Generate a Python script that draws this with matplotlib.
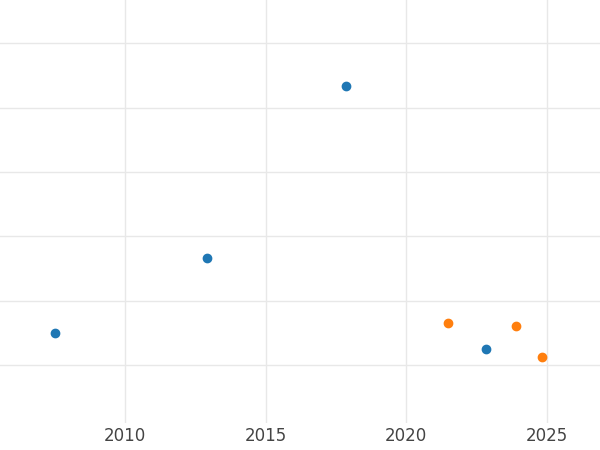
import matplotlib
matplotlib.use("Agg")
import matplotlib.pyplot as plt

# ── Datos ──────────────────────────────────────────────────────────────────────
years_blue = [2007.5, 2012.9, 2017.85, 2022.85]
vals_blue = [0.5, 1.67, 4.34, 0.25]
years_orange = [2021.5, 2023.9, 2024.85]
vals_orange = [0.66, 0.61, 0.125]
xticks = [2010, 2015, 2020, 2025]

fig = plt.figure(figsize=(6, 4.5), dpi=100)
ax = fig.add_axes([0, 0.06, 1, 0.94])

ax.scatter(years_blue, vals_blue, color="#1f77b4", s=36, zorder=3)
ax.scatter(years_orange, vals_orange, color="#ff7f0e", s=36, zorder=3)

ax.set_xlim(2005.55, 2026.9)
ax.set_ylim(-0.9, 5.67)
ax.set_xticks(xticks)
ax.set_yticks(range(6))
ax.set_yticklabels([])
ax.grid(True, color="#e8e8e8", linewidth=1)
ax.set_axisbelow(True)
for s in ax.spines.values():
    s.set_visible(False)
ax.tick_params(length=0, labelsize=12, colors="#444444", pad=3)

fig.savefig("out.png", dpi=100)
